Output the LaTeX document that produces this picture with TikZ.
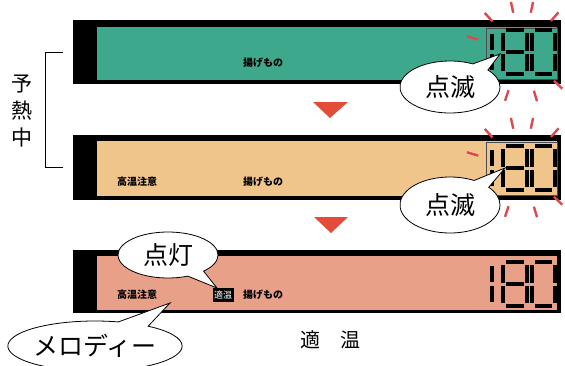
\documentclass[tikz,border=0pt]{standalone}
\usepackage{fontspec}
\newfontfamily\jp{Noto Sans CJK JP}
\usetikzlibrary{shapes.callouts}
\definecolor{lcdgreen}{RGB}{62,168,140}\definecolor{lcdbeige}{RGB}{240,197,140}\definecolor{lcdsalmon}{RGB}{232,160,136}
\definecolor{flashred}{RGB}{222,72,78}\definecolor{markred}{RGB}{226,76,56}
\tikzset{x=1pt,y=-1pt,panel/.style={fill=black},lbl/.style={font=\jp\bfseries\fontsize{10}{12}\selectfont,inner sep=1pt},
seg/.style={line width=4.5pt},flash/.style={flashred,line width=2.4pt},
bubble/.style={ellipse callout,draw,thick,fill=white,font=\jp\fontsize{25}{28}\selectfont,inner sep=0pt,callout pointer arc=22}}
\newcommand{\tempdigits}[1]{\begin{scope}[shift={(0,#1)}]
\draw[seg] (492,4)--(492,20) (492,24)--(492,40);
\foreach \a/\b in {503/527,532/555}{\draw[seg] (\a+3,0)--(\b-3,0) (\a+3,44)--(\b-3,44) (\a,3)--(\a,20.5) (\b,3)--(\b,20.5) (\a,23.5)--(\a,41) (\b,23.5)--(\b,41);}
\draw[seg] (506,22)--(524,22);
\end{scope}}
\newcommand{\flashmarks}[2]{\begin{scope}[shift={(#1,#2)}]
\foreach \t in {-51,-79,-101,-130,-162,46,75,107}{\draw[flash] (\t:46 and 40)--(\t:58 and 51);}
\end{scope}}

\begin{document}
\begin{tikzpicture}
\useasboundingbox (0,0) rectangle (565,365);
% panels
\fill[panel] (73,20) rectangle (561,84);\fill[lcdgreen] (97,27) rectangle (557,80);
\fill[panel] (73,135) rectangle (561,200);\fill[lcdbeige] (97,141) rectangle (557,196);
\fill[panel] (73,250) rectangle (561,313);\fill[lcdsalmon] (97,256) rectangle (557,310);
\draw[black!70] (486,28) rectangle (557,79);\draw[black!70] (486,142) rectangle (557,195);
% labels
\node[lbl] (fry1) at (263,63){揚げもの};
\node[lbl] (hot2) at (137,182){高温注意};\node[lbl] (fry2) at (263,182){揚げもの};
\node[lbl] (hot3) at (137,295){高温注意};
\node[lbl,font=\jp\fontsize{9}{11}\selectfont,fill=black,text=white,inner xsep=1.5pt,inner ysep=2.5pt] (ok3) at (223,295){適温};
\node[lbl] (fry3) at (263,295){揚げもの};
% digits
\tempdigits{30}\tempdigits{146}\tempdigits{262}
\flashmarks{522}{52}\flashmarks{522}{168}
% arrows
\fill[markred] (313,102)--(348,102)--(330,118)--cycle;\fill[markred] (314,217)--(348,217)--(331,233)--cycle;
% preheat bracket
\draw[thick] (63,52)--(45,52)--(45,167)--(63,167);
\node[font=\jp\fontsize{21}{27}\selectfont,align=center] (heat) at (22,111){予\\熱\\中};
% callouts
\coordinate (tip1) at (500,54);\coordinate (tip2) at (505,168);\coordinate (tip3) at (217,288);\coordinate (tip4) at (170,303);
\node[bubble,minimum width=100,minimum height=52,callout absolute pointer=(tip1)] (blink1) at (450,87){点滅};
\node[bubble,minimum width=100,minimum height=56,callout absolute pointer=(tip2)] (blink2) at (450,205){点滅};
\node[bubble,minimum width=100,minimum height=46,callout absolute pointer=(tip3)] (lit) at (168,255){点灯};
\node[bubble,minimum width=150,minimum height=50,callout absolute pointer=(tip4)] (melody) at (95,346){メロディー};
\node[font=\jp\fontsize{20}{24}\selectfont] (okt) at (330,340){適\hspace{1em}温};
\end{tikzpicture}
\end{document}
